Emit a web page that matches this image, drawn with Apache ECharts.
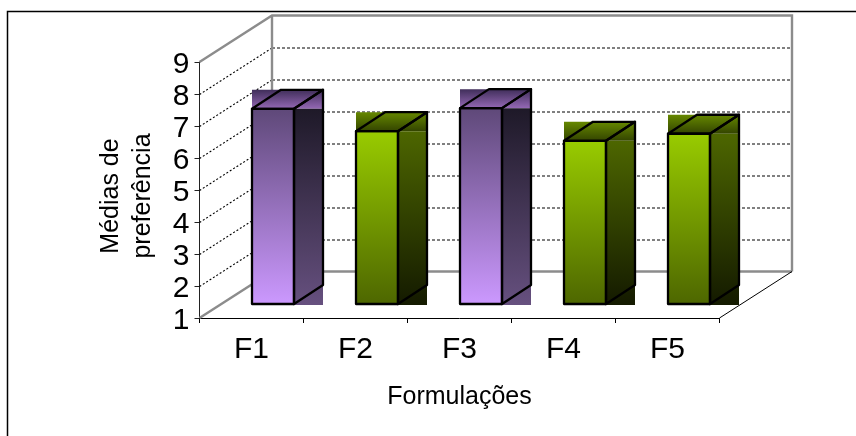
<!DOCTYPE html>
<html><head><meta charset="utf-8">
<style>html,body{margin:0;padding:0;background:#fff}#c{width:856px;height:436px}</style>
<script src="https://cdn.jsdelivr.net/npm/echarts@6/dist/echarts.min.js"></script>
</head><body><div id="c"></div>
<script>
const categories = ['F1','F2','F3','F4','F5'];
const values = [7.1,6.4,7.12,6.1,6.32];
const barKinds = ['purple','green','purple','green','green'];
const gridValues = [2,3,4,5,6,7,8];
const yMin = 1, yMax = 9;

const FONT = '"Liberation Sans", Arial, sans-serif';
const WALL_DX = 72.5, WALL_DY = -46.5;
const BAR_RAISE = 14, BAR_DX = 29, BAR_DY = -19, BAR_W = 42, BAR_NUDGE = 0.5;
const grad = (a,b)=>({type:'linear',x:0,y:0,x2:0,y2:1,colorStops:[{offset:0,color:a},{offset:1,color:b}]});
const palette = {
  purple:{front:grad('#5e4878','#cc99ff'),side:grad('#1e1928','#66507f'),top:grad('#402e5a','#9468b4')},
  green:{front:grad('#99cc00','#4d6600'),side:grad('#4d6600','#141a00'),top:grad('#668800','#334400')}
};
const chart = echarts.init(document.getElementById('c'),null,{renderer:'canvas'});

function wallRender(params,api){
  const cs=params.coordSys, l=cs.x, r=cs.x+cs.width, t=cs.y, b=cs.y+cs.height;
  const gray={stroke:'#8c8c8c',lineWidth:2.4,fill:null};
  const line=(pts,st)=>({type:'polyline',shape:{points:pts},style:st});
  return {type:'group',children:[
    line([[l,t],[l+WALL_DX,t+WALL_DY],[r+WALL_DX,t+WALL_DY],[r+WALL_DX,b+WALL_DY]],gray),
    line([[l+WALL_DX,t+WALL_DY],[l+WALL_DX,b+WALL_DY]],gray),
    line([[l,b],[l+WALL_DX,b+WALL_DY],[r+WALL_DX,b+WALL_DY]],gray),
    line([[r,b],[r+WALL_DX,b+WALL_DY]],{stroke:'#000',lineWidth:1,fill:null})
  ]};
}
function gridRender(params,api){
  const cs=params.coordSys, l=cs.x, r=cs.x+cs.width;
  const y=Math.round(api.coord([0,api.value(0)])[1])+0.5;
  return {type:'group',children:[
    {type:'line',shape:{x1:l,y1:y,x2:l+WALL_DX,y2:y+WALL_DY},style:{stroke:'#000',lineWidth:1.1,lineDash:[2,2]}},
    {type:'line',shape:{x1:l+WALL_DX,y1:y+WALL_DY,x2:r+WALL_DX,y2:y+WALL_DY},style:{stroke:'#000',lineWidth:1,lineDash:[3,2]}}
  ]};
}
function barRender(params,api){
  const i=api.value(0), v=api.value(1);
  const p=palette[barKinds[i]];
  const x=api.coord([i,v])[0]+BAR_NUDGE;
  const top=api.coord([i,v])[1]-BAR_RAISE;
  const bot=api.coord([i,yMin])[1]-BAR_RAISE;
  const ln={stroke:'#000',lineWidth:2.3,lineJoin:'round'};
  return {type:'group',children:[
    {type:'rect',shape:{x:x,y:top+BAR_DY,width:BAR_W+BAR_DX,height:-BAR_DY},style:{fill:p.top}},
    {type:'rect',shape:{x:x+BAR_W,y:top,width:BAR_DX,height:bot-top+1},style:{fill:p.side}},
    {type:'rect',shape:{x:x,y:top,width:BAR_W,height:bot-top},style:Object.assign({fill:p.front},ln)},
    {type:'polygon',shape:{points:[[x+BAR_W,top],[x+BAR_W+BAR_DX,top+BAR_DY],[x+BAR_W+BAR_DX,bot+BAR_DY],[x+BAR_W,bot]]},style:Object.assign({fill:null},ln)},
    {type:'polygon',shape:{points:[[x,top],[x+BAR_DX,top+BAR_DY],[x+BAR_W+BAR_DX,top+BAR_DY],[x+BAR_W,top]]},style:Object.assign({fill:null},ln)}
  ]};
}
chart.setOption({
  animation:false,
  backgroundColor:'#fff',
  textStyle:{fontFamily:FONT},
  graphic:[{type:'rect',silent:true,z:-1,shape:{x:7.5,y:11.5,width:1000,height:1000},style:{fill:null,stroke:'#000',lineWidth:1.5}}],
  grid:{left:199.5,right:136.5,top:62,bottom:118},
  xAxis:{type:'category',data:categories,name:'Formulações',nameLocation:'middle',nameGap:67,
    nameTextStyle:{fontSize:25,color:'#000',fontFamily:FONT},
    axisLine:{lineStyle:{color:'#000',width:1}},axisTick:{show:true,length:5,lineStyle:{color:'#000'}},
    axisLabel:{fontSize:30,color:'#000',margin:17,fontFamily:FONT},splitLine:{show:false}},
  yAxis:{type:'value',min:yMin,max:yMax,interval:1,name:'Médias de\npreferência',nameLocation:'middle',nameRotate:90,nameGap:40,
    nameTextStyle:{fontSize:25,color:'#000',lineHeight:32,fontFamily:FONT,padding:[0,12,0,0]},
    axisLine:{show:true,lineStyle:{color:'#222',width:1}},axisTick:{show:true,length:5,lineStyle:{color:'#222'}},
    axisLabel:{fontSize:30,color:'#000',margin:10,verticalAlign:'top',lineHeight:6,fontFamily:FONT},splitLine:{show:false}},
  series:[
    {type:'custom',clip:false,silent:true,z:1,renderItem:gridRender,data:gridValues.map(v=>[v]),encode:{y:0}},
    {type:'custom',clip:false,silent:true,z:2,renderItem:wallRender,data:[[yMax]],encode:{y:0}},
    {type:'custom',clip:false,silent:true,z:3,renderItem:barRender,data:values.map((v,i)=>[i,v]),encode:{x:0,y:1}}
  ]
});
</script></body></html>
